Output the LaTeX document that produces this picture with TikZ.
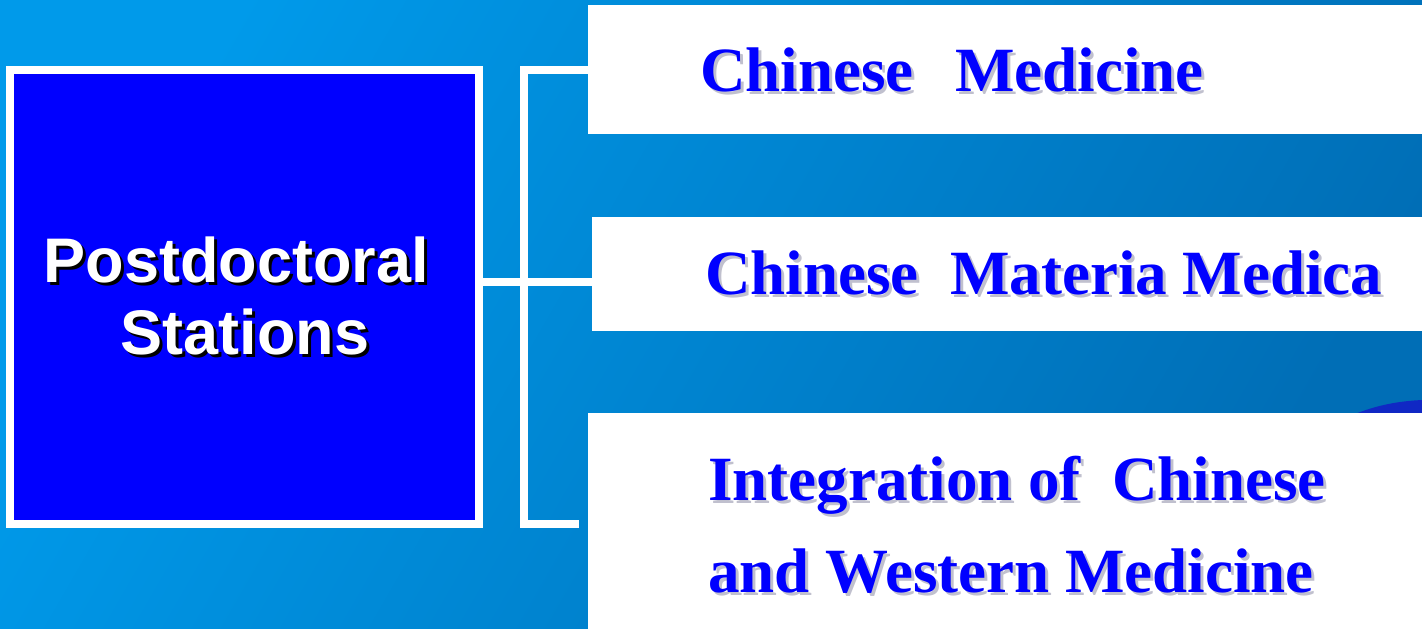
\documentclass[tikz,border=0pt]{standalone}
\usepackage{fontspec}
\newfontfamily\serifbold{Liberation Serif}
\newfontfamily\sansbold{Liberation Sans}
\definecolor{bglight}{RGB}{0,154,234}
\definecolor{bgdark}{RGB}{0,110,182}
\definecolor{boxblue}{RGB}{0,0,255}
\definecolor{txtblue}{RGB}{0,0,255}
\definecolor{blobblue}{RGB}{16,40,196}
\definecolor{softshadow}{RGB}{192,192,206}
\newcommand{\shadowed}[2]{\leavevmode\rlap{\kern3pt\raisebox{-3pt}{\textcolor{#1}{#2}}}#2}
\tikzset{
  x=1pt, y=-1pt,
  whitebox/.style={fill=white, draw=none, inner sep=0pt, outer sep=0pt},
  mainbox/.style={fill=boxblue, draw=white, line width=8pt, inner sep=0pt},
  conn/.style={draw=white, line width=8pt, line cap=butt, line join=miter},
  bluetxt/.style={anchor=base west, inner sep=0pt, text=txtblue, font=\fontsize{63}{70}\selectfont\serifbold\bfseries},
  whitetxt/.style={anchor=base, inner sep=0pt, text=white, font=\fontsize{63}{70}\selectfont\sansbold\bfseries},
}
\begin{document}
\begin{tikzpicture}
\useasboundingbox (0,0) rectangle (1422,629);
% background
\shade[shading=axis, top color=bglight, bottom color=bgdark, shading angle=60] (0,0) rectangle (1422,629);
\fill[blobblue] (1355,414) .. controls (1380,404) and (1402,401) .. (1422,400) -- (1422,414) -- cycle;

% right boxes
\node[whitebox, minimum width=834pt, minimum height=129pt, anchor=north west] (box1) at (588,5) {};
\node[whitebox, minimum width=830pt, minimum height=114pt, anchor=north west] (box2) at (592,217) {};
\node[whitebox, minimum width=834pt, minimum height=216pt, anchor=north west] (box3) at (588,413) {};

% left box
\node[mainbox, minimum width=469pt, minimum height=453.5pt] (lbox) at (244.5,296.75) {};

% connectors
\coordinate (j) at (524,282);
\coordinate (bt) at (524,70);
\coordinate (bb) at (524,523.5);
\coordinate (bend) at (579,523.5);
\draw[conn] (lbox.east |- j) -- (box2.west |- j);
\draw[conn] (box1.west |- bt) -- (bt) -- (bb) -- (bend);

% left text
\node[whitetxt] (t1) at (236.5,282) {\shadowed{black}{Postdoctoral}};
\node[whitetxt] (t2) at (245,354) {\shadowed{black}{Stations}};

% right texts
\node[bluetxt] (r1) at (700,91) {\shadowed{softshadow}{Chinese\hspace{0.66em}Medicine}};
\node[bluetxt] (r2) at (705,294) {\shadowed{softshadow}{Chinese\hspace{0.5em}Materia Medica}};
\node[bluetxt] (r3) at (708,500) {\shadowed{softshadow}{Integration of\hspace{0.5em}Chinese}};
\node[bluetxt] (r4) at (708,592) {\shadowed{softshadow}{and Western Medicine}};
\end{tikzpicture}
\end{document}
